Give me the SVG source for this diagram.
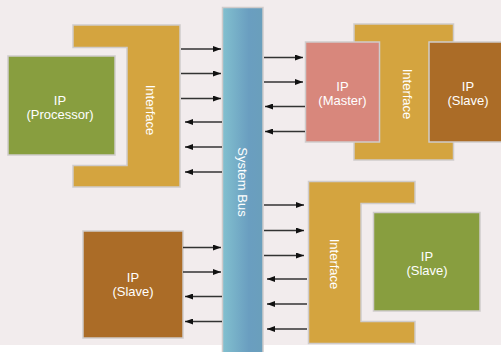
<svg xmlns="http://www.w3.org/2000/svg" width="501" height="352" viewBox="0 0 501 352">
  <defs>
    <linearGradient id="busGrad" x1="0" y1="0" x2="1" y2="0">
      <stop offset="0" stop-color="#82c0cf"/>
      <stop offset="0.65" stop-color="#6a9ec0"/>
      <stop offset="1" stop-color="#6a9fbc"/>
    </linearGradient>
    <marker id="arrow" markerWidth="8" markerHeight="6" refX="8" refY="3" orient="auto" markerUnits="userSpaceOnUse">
      <path d="M0,0 L8,3 L0,6 Z" fill="#111"/>
    </marker>
  </defs>
  <style>
    .box { stroke: #cfcbcb; stroke-width: 1.5; }
    .iface { fill: #d4a43f; }
    .green { fill: #889e3f; }
    .brown { fill: #ab6c27; }
    .master { fill: #d8877c; }
    .lbl { font-family: "Liberation Sans", Arial, sans-serif; font-size: 13px; fill: #ffffff; text-anchor: middle; }
    .conn line { stroke: #333; stroke-width: 1.3; marker-end: url(#arrow); }
  </style>

  <!-- page background -->
  <rect x="0" y="0" width="501" height="345" fill="#f2eced"/>
  <rect x="0" y="345" width="501" height="7" fill="#ffffff"/>

  <!-- shared bus -->
  <g id="system-bus">
    <rect x="222.5" y="7.5" width="40.5" height="350" fill="url(#busGrad)" class="box"/>
    <text class="lbl" font-size="13.5" transform="translate(238,182) rotate(90)">System Bus</text>
  </g>

  <!-- processor side -->
  <g id="interface-processor">
    <path class="box iface" d="M73,25 H180 V187 H73 V165.5 H127 V47.5 H73 Z"/>
    <text class="lbl" font-size="13.5" transform="translate(145.5,110) rotate(90)">Interface</text>
  </g>
  <g id="ip-processor">
    <rect class="box green" x="8" y="56" width="107" height="99"/>
    <text class="lbl" x="60" y="104.5">IP</text>
    <text class="lbl" x="60" y="118.5">(Processor)</text>
  </g>

  <!-- master / slave pair -->
  <g id="interface-master">
    <rect class="box iface" x="354" y="24" width="99.5" height="136"/>
    <text class="lbl" font-size="13.5" transform="translate(402.5,94) rotate(90)">Interface</text>
  </g>
  <g id="ip-master">
    <rect class="box master" x="305.5" y="42" width="74" height="100"/>
    <text class="lbl" x="342.5" y="90.5">IP</text>
    <text class="lbl" x="342.5" y="104.5">(Master)</text>
  </g>
  <g id="ip-slave-right">
    <rect class="box brown" x="429" y="42" width="80" height="100"/>
    <text class="lbl" x="468" y="90.5">IP</text>
    <text class="lbl" x="468" y="104.5">(Slave)</text>
  </g>

  <!-- direct slave -->
  <g id="ip-slave-left">
    <rect class="box brown" x="83" y="231" width="100" height="107"/>
    <text class="lbl" x="133" y="281.5">IP</text>
    <text class="lbl" x="133" y="295.5">(Slave)</text>
  </g>

  <!-- wrapped slave -->
  <g id="interface-slave">
    <path class="box iface" d="M308.5,181.5 H415 V203.5 H361 V321.5 H415 V343.5 H308.5 Z"/>
    <text class="lbl" font-size="13.5" transform="translate(329.5,264) rotate(90)">Interface</text>
  </g>
  <g id="ip-slave-green">
    <rect class="box green" x="373.5" y="212.5" width="106.5" height="98.5"/>
    <text class="lbl" x="427" y="260.5">IP</text>
    <text class="lbl" x="427" y="274.5">(Slave)</text>
  </g>

  <!-- bus signals -->
  <g id="connectors" class="conn">
    <line x1="181" y1="49" x2="221" y2="49"/>
    <line x1="181" y1="73.5" x2="221" y2="73.5"/>
    <line x1="181" y1="98.5" x2="221" y2="98.5"/>
    <line x1="222" y1="122" x2="185" y2="122"/>
    <line x1="222" y1="147" x2="185" y2="147"/>
    <line x1="222" y1="172" x2="185" y2="172"/>

    <line x1="264" y1="57.5" x2="303" y2="57.5"/>
    <line x1="264" y1="82" x2="303" y2="82"/>
    <line x1="305" y1="106.5" x2="265" y2="106.5"/>
    <line x1="305" y1="131.5" x2="265" y2="131.5"/>

    <line x1="183" y1="247.5" x2="221" y2="247.5"/>
    <line x1="183" y1="272" x2="221" y2="272"/>
    <line x1="222" y1="296.5" x2="185" y2="296.5"/>
    <line x1="222" y1="321.5" x2="185" y2="321.5"/>

    <line x1="264" y1="205" x2="304" y2="205"/>
    <line x1="264" y1="230.5" x2="304" y2="230.5"/>
    <line x1="264" y1="255.5" x2="304" y2="255.5"/>
    <line x1="307" y1="279" x2="267" y2="279"/>
    <line x1="307" y1="304" x2="267" y2="304"/>
    <line x1="307" y1="329" x2="267" y2="329"/>
  </g>
</svg>
